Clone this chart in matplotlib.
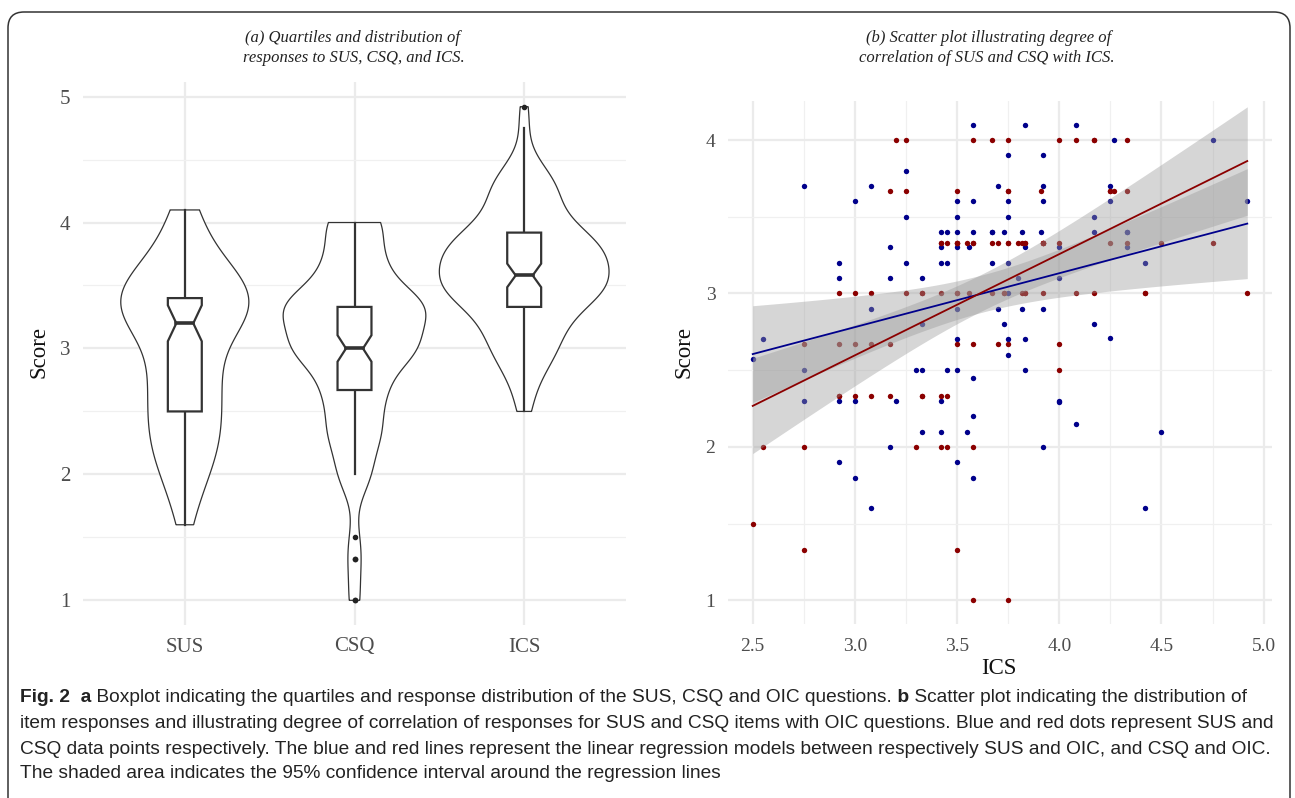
import numpy as np
import matplotlib
matplotlib.use("Agg")
import matplotlib.pyplot as plt
from matplotlib.patches import FancyBboxPatch, Polygon
from matplotlib.transforms import IdentityTransform

W, H = 1295, 798

# one entry per respondent: ICS mean, SUS mean, CSQ mean
ics = [2.50, 2.55, 2.75, 2.75, 2.75, 2.92, 2.92, 2.92, 2.92,
       3.00, 3.00, 3.00, 3.08, 3.08, 3.08, 3.17, 3.17, 3.17, 3.20,
       3.25, 3.25, 3.25, 3.30, 3.33, 3.33, 3.33, 3.33,
       3.42, 3.42, 3.42, 3.42, 3.42, 3.45, 3.45, 3.45,
       3.50, 3.50, 3.50, 3.50, 3.50, 3.50, 3.50, 3.50, 3.55, 3.56,
       3.58, 3.58, 3.58, 3.58, 3.58, 3.58, 3.67, 3.67, 3.67,
       3.70, 3.70, 3.73, 3.73, 3.75, 3.75, 3.75, 3.75, 3.75, 3.75, 3.75,
       3.80, 3.82, 3.82, 3.83, 3.83, 3.83, 3.83, 3.91,
       3.92, 3.92, 3.92, 3.92, 3.92, 4.00, 4.00, 4.00, 4.00,
       4.08, 4.08, 4.17, 4.17, 4.17, 4.25, 4.25, 4.25, 4.27,
       4.33, 4.33, 4.33, 4.42, 4.42, 4.50, 4.75, 4.92]
sus = [2.57, 2.70, 3.70, 2.50, 2.30, 3.20, 3.10, 2.30, 1.90,
       3.60, 2.30, 1.80, 3.70, 2.90, 1.60, 3.30, 3.10, 2.00, 2.30,
       3.80, 3.50, 3.20, 2.50, 3.10, 2.80, 2.50, 2.10,
       3.40, 3.30, 3.20, 2.30, 2.10, 3.40, 3.20, 2.50,
       3.60, 3.50, 3.40, 3.30, 2.90, 2.70, 2.50, 1.90, 2.10, 3.30,
       4.10, 3.60, 3.40, 2.45, 2.20, 1.80, 3.40, 3.40, 3.20,
       3.70, 2.90, 3.40, 2.80, 3.90, 3.60, 3.50, 3.20, 3.00, 2.70, 2.60,
       3.10, 3.40, 2.90, 4.10, 3.30, 2.70, 2.50, 3.40,
       3.90, 3.70, 3.60, 2.90, 2.00, 3.30, 3.10, 2.30, 2.29,
       4.10, 2.15, 3.50, 3.40, 2.80, 3.70, 3.60, 2.71, 4.00,
       3.40, 3.40, 3.30, 3.20, 1.60, 2.10, 4.00, 3.60]
csq = [1.50, 2.00, 2.67, 2.00, 1.33, 3.00, 2.67, 2.33, 2.33,
       3.00, 2.67, 2.33, 3.00, 2.67, 2.33, 3.67, 2.67, 2.33, 4.00,
       4.00, 3.67, 3.00, 2.00, 3.00, 3.00, 2.33, 2.33,
       3.33, 3.33, 3.00, 2.33, 2.00, 3.33, 2.33, 2.00,
       3.67, 3.33, 3.33, 3.33, 3.00, 3.00, 2.67, 1.33, 3.33, 3.00,
       4.00, 3.33, 3.33, 2.67, 2.00, 1.00, 4.00, 3.33, 3.00,
       3.33, 2.67, 3.00, 3.00, 4.00, 3.67, 3.67, 3.33, 3.33, 2.67, 1.00,
       3.33, 3.33, 3.00, 3.33, 3.33, 3.00, 3.00, 3.67,
       3.33, 3.33, 3.33, 3.33, 3.00, 4.00, 3.33, 2.67, 2.50,
       4.00, 3.00, 4.00, 4.00, 3.00, 3.67, 3.67, 3.33, 3.67,
       4.00, 3.67, 3.33, 3.00, 3.00, 3.33, 3.33, 3.00]

groups = ["SUS", "CSQ", "ICS"]
group_values = [sus, csq, ics]

fig = plt.figure(figsize=(W / 100, H / 100), dpi=100)
serif = "Liberation Serif"
cap_font = ["Liberation Sans", "DejaVu Sans"]
grey_txt = "#4d4d4d"
line_col = "#333333"


def px(x, y):
    return x / W, 1 - y / H


def expand(vals):
    lo, hi = min(vals), max(vals)
    d = (hi - lo) * 0.05
    return lo - d, hi + d


def kde(vals, grid):
    v = np.asarray(vals)
    q75, q25 = np.percentile(v, [75, 25])
    bw = 0.9 * min(v.std(ddof=1), (q75 - q25) / 1.34) * len(v) ** -0.2
    z = (grid[:, None] - v[None, :]) / bw
    return np.exp(-0.5 * z ** 2).sum(axis=1) / (len(v) * bw * np.sqrt(2 * np.pi))


# ---------------- panel a: violins + notched boxes ----------------
ax1 = fig.add_axes([83 / W, 1 - 625 / H, 543 / W, 543 / H])
ax1.set_xlim(0.4, 3.6)
ax1.set_ylim(*expand(sus + csq + ics))

dens = []
for vals in group_values:
    g = np.linspace(min(vals), max(vals), 512)
    dens.append((g, kde(vals, g)))
dmax = max(d.max() for _, d in dens)

for i, vals in enumerate(group_values):
    c = i + 1
    g, d = dens[i]
    hw = d / dmax * 0.5
    xs = np.concatenate([c - hw, (c + hw)[::-1]])
    ys = np.concatenate([g, g[::-1]])
    ax1.add_patch(Polygon(np.column_stack([xs, ys]), closed=True, facecolor="white",
                          edgecolor=line_col, lw=0.9, zorder=2))

    v = np.asarray(vals)
    q1, med, q3 = np.percentile(v, [25, 50, 75])
    iqr = q3 - q1
    lo_w = v[v >= q1 - 1.5 * iqr].min()
    hi_w = v[v <= q3 + 1.5 * iqr].max()
    notch = 1.58 * iqr / np.sqrt(len(v))
    bw_, nw = 0.1, 0.05
    box = [(c - bw_, q1), (c - bw_, med - notch), (c - nw, med), (c - bw_, med + notch),
           (c - bw_, q3), (c + bw_, q3), (c + bw_, med + notch), (c + nw, med),
           (c + bw_, med - notch), (c + bw_, q1)]
    ax1.plot([c, c], [hi_w, q3], color=line_col, lw=1.6, zorder=3)
    ax1.plot([c, c], [lo_w, q1], color=line_col, lw=1.6, zorder=3)
    ax1.add_patch(Polygon(box, closed=True, facecolor="white", edgecolor=line_col,
                          lw=1.6, zorder=4))
    ax1.plot([c - nw, c + nw], [med, med], color=line_col, lw=2.6, zorder=5)
    out = v[(v < lo_w) | (v > hi_w)]
    ax1.scatter(np.full(len(out), c), out, s=9, color="#222222", zorder=5)

ax1.set_xticks([1, 2, 3], groups)
ax1.set_yticks([1, 2, 3, 4, 5])
ax1.set_yticks([1.5, 2.5, 3.5, 4.5], minor=True)
ax1.grid(which="major", color="#ebebeb", lw=1.6)
ax1.grid(which="minor", axis="y", color="#f0f0f0", lw=0.9)
ax1.set_axisbelow(True)
ax1.tick_params(which="both", length=0, labelsize=15, labelcolor=grey_txt)
ax1.tick_params(axis="y", pad=9)
ax1.tick_params(axis="x", pad=9)
for tl in ax1.get_xticklabels() + ax1.get_yticklabels():
    tl.set_family(serif)
for s in ax1.spines.values():
    s.set_visible(False)

# ---------------- panel b: scatter + regression ----------------
ax2 = fig.add_axes([728 / W, 1 - 624 / H, 544 / W, 523 / H])
ax2.set_xlim(*expand(ics))
ax2.set_ylim(*expand(sus + csq))

xg = np.linspace(min(ics), max(ics), 100)
t975 = 1.985  # t quantile, df = n - 2
for vals, col in [(sus, "#00008B"), (csq, "#8B0000")]:
    ax2.scatter(ics, vals, s=15, color=col, zorder=2, linewidths=0)
for vals, col in [(sus, "#00008B"), (csq, "#8B0000")]:
    x = np.asarray(ics)
    y = np.asarray(vals)
    b, a = np.polyfit(x, y, 1)
    res = y - (a + b * x)
    s = np.sqrt((res ** 2).sum() / (len(x) - 2))
    se = s * np.sqrt(1 / len(x) + (xg - x.mean()) ** 2 / ((x - x.mean()) ** 2).sum())
    fit = a + b * xg
    ax2.fill_between(xg, fit - t975 * se, fit + t975 * se, color="#999999", alpha=0.4,
                     lw=0, zorder=3)
    ax2.plot(xg, fit, color=col, lw=1.3, zorder=4)

ax2.set_xticks([2.5, 3.0, 3.5, 4.0, 4.5, 5.0], ["2.5", "3.0", "3.5", "4.0", "4.5", "5.0"])
ax2.set_xticks([2.75, 3.25, 3.75, 4.25, 4.75], minor=True)
ax2.set_yticks([1, 2, 3, 4])
ax2.set_yticks([1.5, 2.5, 3.5], minor=True)
ax2.grid(which="major", color="#ebebeb", lw=1.6)
ax2.grid(which="minor", color="#f0f0f0", lw=0.9)
ax2.set_axisbelow(True)
ax2.tick_params(which="both", length=0, labelsize=14, labelcolor=grey_txt)
ax2.tick_params(axis="y", pad=9)
ax2.tick_params(axis="x", pad=10)
for tl in ax2.get_xticklabels() + ax2.get_yticklabels():
    tl.set_family(serif)
for s in ax2.spines.values():
    s.set_visible(False)

# ---------------- titles and axis labels ----------------
fig.text(*px(352, 38), "(a) Quartiles and distribution of", family=serif, style="italic",
         fontsize=12, ha="center", va="center", color="#222222")
fig.text(*px(354, 58), "responses to SUS, CSQ, and ICS.", family=serif, style="italic",
         fontsize=12, ha="center", va="center", color="#222222")
fig.text(*px(989, 38), "(b) Scatter plot illustrating degree of", family=serif, style="italic",
         fontsize=12, ha="center", va="center", color="#222222")
fig.text(*px(987, 58), "correlation of SUS and CSQ with ICS.", family=serif, style="italic",
         fontsize=12, ha="center", va="center", color="#222222")
fig.text(*px(39, 352), "Score", family=serif, fontsize=16.5, rotation=90,
         ha="center", va="center", color="#111111")
fig.text(*px(684, 352), "Score", family=serif, fontsize=16.5, rotation=90,
         ha="center", va="center", color="#111111")
fig.text(*px(999, 668), "ICS", family=serif, fontsize=16.5, ha="center", va="center",
         color="#111111")

# ---------------- frame and caption ----------------
frame = FancyBboxPatch((8, H - 830), 1282, 830 - 12, boxstyle="round,pad=0,rounding_size=16",
                       transform=IdentityTransform(), facecolor="none", edgecolor="#333333",
                       lw=1.1)
fig.patches.append(frame)

renderer = fig.canvas.get_renderer()
cap_size = 13.8
caption = [
    (697, [("Fig. 2", True), ("  a", True),
           (" Boxplot indicating the quartiles and response distribution of the SUS, CSQ and OIC questions.", False),
           (" b", True), (" Scatter plot indicating the distribution of", False)]),
    (723, [("item responses and illustrating degree of correlation of responses for SUS and CSQ items with OIC questions. Blue and red dots represent SUS and", False)]),
    (749, [("CSQ data points respectively. The blue and red lines represent the linear regression models between respectively SUS and OIC, and CSQ and OIC.", False)]),
    (774, [("The shaded area indicates the 95% confidence interval around the regression lines", False)]),
]
for y, runs in caption:
    x = 20
    for txt, bold in runs:
        t = fig.text(*px(x, y), txt, family=cap_font, fontsize=cap_size,
                     fontweight="bold" if bold else "normal", ha="left", va="center",
                     color="#222222")
        x += t.get_window_extent(renderer=renderer).width

fig.savefig("out.png", dpi=100)
